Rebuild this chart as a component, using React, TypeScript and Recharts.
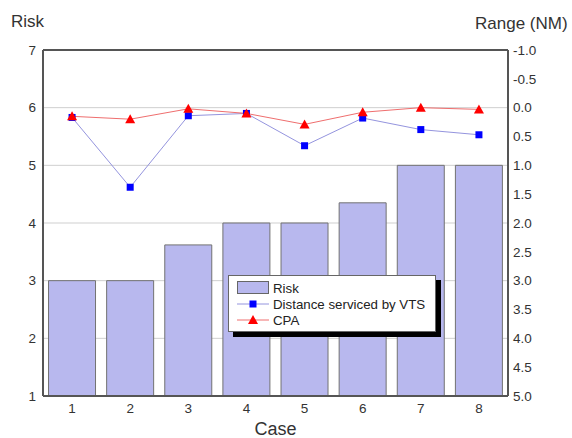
import React from 'react';
import {
  ComposedChart,
  Bar,
  Line,
  XAxis,
  YAxis,
  CartesianGrid,
  ReferenceLine,
} from 'recharts';

// Case numbers along the x axis
const cases = ['1', '2', '3', '4', '5', '6', '7', '8'];
// Risk level per case (left axis)
const riskValues = [3, 3, 3.62, 4, 4, 4.35, 5, 5];
// Distance serviced by VTS, in nautical miles (right axis, reversed)
const vtsRange = [0.17, 1.38, 0.14, 0.1, 0.66, 0.18, 0.38, 0.47];
// Closest point of approach, in nautical miles (right axis, reversed)
const cpaRange = [0.15, 0.2, 0.02, 0.1, 0.29, 0.08, 0.0, 0.03];

const riskTicks = [1, 2, 3, 4, 5, 6, 7];
const rangeTicks = [-1, -0.5, 0, 0.5, 1, 1.5, 2, 2.5, 3, 3.5, 4, 4.5, 5];

const data = cases.map((c, i) => ({
  case: c,
  risk: riskValues[i],
  vts: vtsRange[i],
  cpa: cpaRange[i],
}));

const FONT = '"Liberation Sans", Arial, sans-serif';
const TICK = { fill: '#333', fontSize: 13.5, fontFamily: FONT };
const AXIS = '#555';

const BAR_FILL = '#b8b8ee';
const VTS_LINE = '#9494de';
const VTS_DOT = '#0000ff';
const CPA_LINE = '#ef6e6e';
const CPA_DOT = '#ff0000';

const legendItems = [
  { key: 'risk', label: 'Risk' },
  { key: 'vts', label: 'Distance serviced by VTS' },
  { key: 'cpa', label: 'CPA' },
];

const SquareDot = (props: any) => {
  const { cx, cy } = props;
  if (cx == null || cy == null) return null;
  return <rect x={cx - 3.5} y={cy - 3.5} width={7} height={7} fill={VTS_DOT} />;
};

const TriangleDot = (props: any) => {
  const { cx, cy } = props;
  if (cx == null || cy == null) return null;
  return (
    <polygon
      points={`${cx},${cy - 5} ${cx + 5},${cy + 4} ${cx - 5},${cy + 4}`}
      fill={CPA_DOT}
    />
  );
};

const LegendBox = () => (
  <div
    style={{
      position: 'absolute',
      left: 228,
      top: 275,
      width: 208,
      height: 57,
      background: '#fff',
      border: '1px solid #666',
      boxShadow: '5px 5px 0 #000',
      padding: '4px 0 0 8px',
      boxSizing: 'border-box',
      fontFamily: FONT,
      fontSize: 13.3,
      color: '#222',
    }}
  >
    {legendItems.map((it) => (
      <div key={it.key} style={{ display: 'flex', alignItems: 'center', height: 16 }}>
        <svg width={33} height={14} style={{ marginRight: 3, flexShrink: 0 }}>
          {it.key === 'risk' ? (
            <rect x={0.5} y={0.5} width={31} height={12} fill={BAR_FILL} stroke="#666" />
          ) : (
            <g>
              <line
                x1={0}
                x2={32}
                y1={7}
                y2={7}
                stroke={it.key === 'vts' ? VTS_LINE : CPA_LINE}
                strokeWidth={1}
              />
              {it.key === 'vts' ? <SquareDot cx={16} cy={7} /> : <TriangleDot cx={16} cy={7} />}
            </g>
          )}
        </svg>
        <span style={{ whiteSpace: 'nowrap' }}>{it.label}</span>
      </div>
    ))}
  </div>
);

export default function App() {
  return (
    <div style={{ position: 'absolute', left: 0, top: 0, width: 572, height: 438, background: '#fff', overflow: 'hidden' }}>
      <ComposedChart
        width={572}
        height={438}
        data={data}
        margin={{ top: 50, right: 0, bottom: 0, left: 0 }}
        barCategoryGap="9.5%"
      >
        <CartesianGrid
          yAxisId="left"
          vertical={false}
          stroke="#cfcfcf"
          horizontalValues={riskTicks}
        />
        <XAxis
          dataKey="case"
          height={42}
          tickLine={false}
          tickSize={0}
          tickMargin={7}
          axisLine={{ stroke: AXIS, strokeWidth: 2 }}
          tick={TICK}
          label={{
            value: 'Case',
            position: 'insideBottom',
            offset: 3,
            fill: '#333',
            fontSize: 18,
            fontFamily: FONT,
          }}
        />
        <YAxis
          yAxisId="left"
          orientation="left"
          width={43}
          domain={[1, 7]}
          ticks={riskTicks}
          interval={0}
          tickLine={false}
          tickSize={0}
          tickMargin={7}
          axisLine={{ stroke: AXIS, strokeWidth: 2 }}
          tick={TICK}
        />
        <YAxis
          yAxisId="right"
          orientation="right"
          width={64}
          domain={[-1, 5]}
          reversed
          ticks={rangeTicks}
          interval={0}
          tickLine={false}
          tickSize={0}
          tickMargin={5}
          axisLine={{ stroke: AXIS, strokeWidth: 2 }}
          tick={TICK}
          tickFormatter={(v: number) => v.toFixed(1)}
        />
        <ReferenceLine yAxisId="left" y={7} stroke={AXIS} strokeWidth={2} />
        <Bar
          yAxisId="left"
          dataKey="risk"
          name="Risk"
          fill={BAR_FILL}
          stroke="#727272"
          strokeWidth={1}
          isAnimationActive={false}
        />
        <Line
          yAxisId="right"
          dataKey="vts"
          name="Distance serviced by VTS"
          stroke={VTS_LINE}
          strokeWidth={1}
          dot={<SquareDot />}
          activeDot={false}
          isAnimationActive={false}
        />
        <Line
          yAxisId="right"
          dataKey="cpa"
          name="CPA"
          stroke={CPA_LINE}
          strokeWidth={1}
          dot={<TriangleDot />}
          activeDot={false}
          isAnimationActive={false}
        />
        <text x={11} y={27} fontSize={17} fontFamily={FONT} fill="#333">
          Risk
        </text>
        <text x={475} y={29} fontSize={17} fontFamily={FONT} fill="#333">
          Range (NM)
        </text>
      </ComposedChart>
      <LegendBox />
    </div>
  );
}
